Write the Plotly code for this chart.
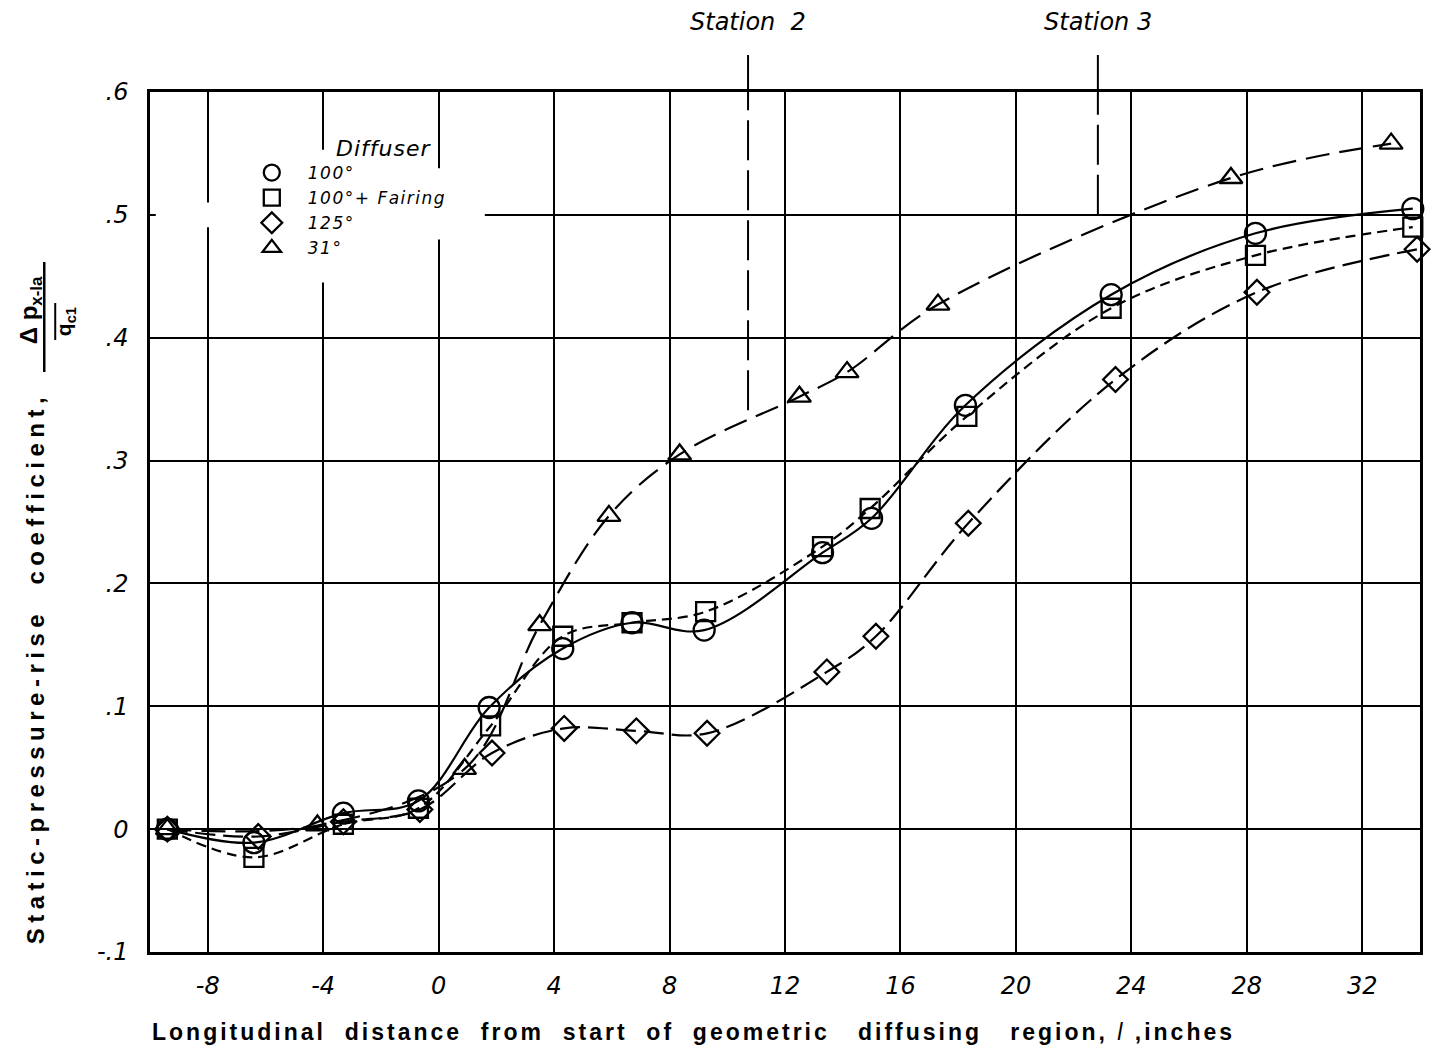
import plotly.graph_objects as go

# ---------------- data ----------------
x_ticks = [-8, -4, 0, 4, 8, 12, 16, 20, 24, 28, 32]
x_ticktext = ["-8", "-4", "0", "4", "8", "12", "16", "20", "24", "28", "32"]
y_ticks = [-0.1, 0.0, 0.1, 0.2, 0.3, 0.4, 0.5, 0.6]
y_ticktext = ["-.1", "0", ".1", ".2", ".3", ".4", ".5", ".6"]

series_names = ["100°", "100°+ Fairing", "125°", "31°"]

x_circle = [-9.4, -6.4, -3.3, -0.7, 1.75, 4.3, 6.7, 9.2, 13.3, 15.0, 18.25, 23.3, 28.3, 33.75]
y_circle = [0.0, -0.011, 0.013, 0.023, 0.099, 0.147, 0.168, 0.162, 0.225, 0.253, 0.345, 0.435, 0.485, 0.505]

x_square = [-9.4, -6.4, -3.3, -0.7, 1.8, 4.3, 6.7, 9.25, 13.3, 14.95, 18.3, 23.3, 28.3, 33.75]
y_square = [0.0, -0.023, 0.004, 0.017, 0.084, 0.157, 0.168, 0.177, 0.230, 0.261, 0.336, 0.424, 0.467, 0.490]

x_diamond = [-9.4, -6.25, -3.3, -0.65, 1.85, 4.35, 6.85, 9.3, 13.45, 15.15, 18.35, 23.45, 28.35, 33.9]
y_diamond = [0.0, -0.006, 0.006, 0.016, 0.062, 0.082, 0.080, 0.078, 0.128, 0.157, 0.249, 0.366, 0.437, 0.472]

x_triangle = [-9.4, -4.2, 0.9, 3.5, 5.9, 8.35, 12.5, 14.15, 17.3, 27.45, 33.0]
y_triangle = [0.0, 0.003, 0.049, 0.166, 0.255, 0.305, 0.352, 0.372, 0.427, 0.530, 0.558]

station_x = [10.72, 22.84]
station_y_end = [0.341, 0.50]
station_labels = ["Station  2", "Station 3"]

# ---------------- layout geometry ----------------
W, H = 1432, 1050
L, R, T, B = 150, 9, 92, 98
PW, PH = W - L - R, H - T - B


def px(xp):
    return (xp - L) / PW


def py(yp):
    return (H - B - yp) / PH


YMIN, YMAX = -0.1, 0.6


def ydom(v):
    return (v - YMIN) / (YMAX - YMIN)


TICKFONT = dict(family="DejaVu Sans", size=24, color="black", style="italic")
BOLDFONT = "Liberation Sans"

fig = go.Figure()

styles = [
    (x_circle, y_circle, "circle-open", 21, "solid"),
    (x_square, y_square, "square-open", 19, "10px,6px"),
    (x_diamond, y_diamond, "diamond-open", 19, "20px,8px"),
    (x_triangle, y_triangle, "triangle-up-open", 20, "24px,10px"),
]

for (xs, ys, sym, size, dash), name in zip(styles, series_names):
    fig.add_trace(go.Scatter(
        x=xs, y=ys, mode="lines", line=dict(color="black", width=2.2, dash=dash,
                                            shape="spline", smoothing=1.0),
        showlegend=False, hoverinfo="skip"))
    fig.add_trace(go.Scatter(
        x=xs, y=ys, mode="markers", cliponaxis=False,
        marker=dict(symbol=sym, size=size, color="black", line=dict(width=2.3, color="black")),
        showlegend=False, name=name))
    # legend entry
    fig.add_trace(go.Scatter(
        x=[None], y=[None], mode="markers",
        name="<span style='letter-spacing:1.5px'>" + name + "</span>",
        marker=dict(symbol=sym, size=size, color="black", line=dict(width=2.3, color="black")),
        showlegend=True))

shapes = []
# white patches that break the grid around the legend (as in the reference)
for x0, x1, y0, y1 in [(-9.8, 1.6, 0.49, 0.51), (-4.2, -3.8, 0.445, 0.553), (-0.2, 0.2, 0.48, 0.538)]:
    shapes.append(dict(type="rect", xref="x", yref="y", x0=x0, x1=x1, y0=y0, y1=y1,
                       fillcolor="white", line=dict(width=0), layer="between"))

# station lines: solid above plot, dashed inside
top_dom = ydom(YMAX) + (T - 55) / PH
for sx, sy in zip(station_x, station_y_end):
    shapes.append(dict(type="line", xref="x", yref="y domain", x0=sx, x1=sx,
                       y0=1.0, y1=top_dom, line=dict(color="black", width=2)))
    shapes.append(dict(type="line", xref="x", yref="y domain", x0=sx, x1=sx,
                       y0=ydom(sy), y1=1.0, line=dict(color="black", width=2, dash="40px,10px")))

# fraction bars of the y-axis label
shapes.append(dict(type="line", xref="paper", yref="paper", x0=px(44), x1=px(44),
                   y0=py(372), y1=py(262), line=dict(color="black", width=2.5)))
shapes.append(dict(type="line", xref="paper", yref="paper", x0=px(55), x1=px(55),
                   y0=py(340), y1=py(303), line=dict(color="black", width=2)))

annotations = []
for sx, lab in zip(station_x, station_labels):
    annotations.append(dict(x=sx, xref="x", y=py(22), yref="paper", text=lab, showarrow=False,
                            xanchor="center", yanchor="middle",
                            font=dict(family="DejaVu Sans", size=24, color="black", style="italic")))

annotations.append(dict(x=px(384), y=py(148), xref="paper", yref="paper",
                        text="<span style='letter-spacing:1px'>Diffuser</span>",
                        showarrow=False, xanchor="center", yanchor="middle",
                        font=dict(family="DejaVu Sans", size=22, color="black", style="italic")))

annotations.append(dict(
    x=px(695), y=py(1032), xref="paper", yref="paper", showarrow=False,
    xanchor="center", yanchor="middle",
    text="<span style='letter-spacing:3px'><b>Longitudinal\u00a0 distance\u00a0 from\u00a0 start\u00a0 of\u00a0 geometric\u00a0\u00a0 diffusing\u00a0\u00a0 region,</b>"
         " <i>l</i> <b>,inches</b></span>",
    font=dict(family=BOLDFONT, size=23, color="black")))

annotations.append(dict(
    x=px(35), y=py(668), xref="paper", yref="paper", showarrow=False, textangle=-90,
    xanchor="center", yanchor="middle",
    text="<b><span style='letter-spacing:5.5px'>Static-pressure-rise\u00a0\u00a0coefficient,</span></b>",
    font=dict(family=BOLDFONT, size=24, color="black")))

annotations.append(dict(
    x=px(30), y=py(310), xref="paper", yref="paper", showarrow=False, textangle=-90,
    xanchor="center", yanchor="middle",
    text="<b>Δ p<sub>x-la</sub></b>",
    font=dict(family=BOLDFONT, size=24, color="black")))
annotations.append(dict(
    x=px(65), y=py(322), xref="paper", yref="paper", showarrow=False, textangle=-90,
    xanchor="center", yanchor="middle",
    text="<b>q<sub>c1</sub></b>",
    font=dict(family=BOLDFONT, size=21, color="black")))

fig.update_layout(
    width=W, height=H,
    margin=dict(l=L, r=R, t=T, b=B, pad=0),
    paper_bgcolor="white", plot_bgcolor="white",
    shapes=shapes, annotations=annotations,
    legend=dict(x=px(236), y=py(155), xanchor="left", yanchor="top",
                bgcolor="rgba(0,0,0,0)", borderwidth=0, itemwidth=62,
                tracegroupgap=0, itemclick=False,
                font=dict(family="DejaVu Sans", size=17, color="black", style="italic")),
    xaxis=dict(range=[-10, 34], tickvals=x_ticks, ticktext=x_ticktext,
               showgrid=True, gridcolor="black", gridwidth=2,
               showline=True, linecolor="black", linewidth=2.5, mirror=True,
               ticks="", ticklabelstandoff=10, tickfont=TICKFONT, zeroline=False),
    yaxis=dict(range=[YMIN, YMAX], tickvals=y_ticks, ticktext=y_ticktext,
               showgrid=True, gridcolor="black", gridwidth=2,
               showline=True, linecolor="black", linewidth=2.5, mirror=True,
               ticks="", ticklabelstandoff=14, tickfont=TICKFONT, zeroline=False),
)

fig.write_html("out.html")
